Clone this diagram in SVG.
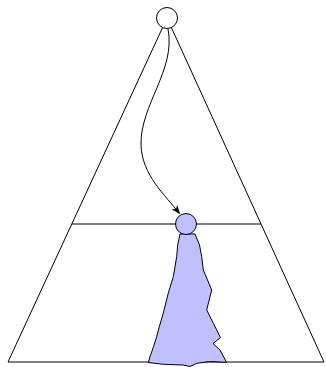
<svg xmlns="http://www.w3.org/2000/svg" width="326" height="367" viewBox="0 0 326 367">
<style>
.ln{fill:none;stroke:#000;stroke-width:1}
.blue{fill:#c0c0ff;stroke:#000;stroke-width:1;stroke-linejoin:round}
.wc{fill:#fff;stroke:#000;stroke-width:1}
</style>
<defs>
<marker id="arr" viewBox="0 0 10 10" refX="9" refY="5" markerWidth="9" markerHeight="9" markerUnits="userSpaceOnUse" orient="auto">
<path d="M0,1 L10,5 L0,9 L2.5,5 Z" fill="#000"/>
</marker>
</defs>
<g id="triangle">
<path class="ln" d="M8,362 L167,18 L324,362 Z"/>
<line class="ln" x1="71.8" y1="224" x2="261" y2="224"/>
</g>
<g id="plume">
<path class="blue" d="M180,234 L177.7,245 L176.7,256.7 L173.3,276.7 L168.3,293 L163.3,313 L159.3,326.7 L156.7,336.7 L153.5,346.7 L150,356.7 L148.3,362.5 L163.3,364.3 L183.3,365 L190,366.5 L196.7,363.3 L208.3,361.7 L215,361.7 L226.5,362.3 L220,350 L213,343.5 L220.5,337.5 L213.3,323.3 L206.7,310 L211.7,290 L203.3,270 L201.7,256.7 L199.5,245 L195,234 Z"/>
</g>
<g id="connectors">
<path class="ln" d="M168,29 C176,70 140,105 141,145 C142,175 165,195 179.5,213.5" marker-end="url(#arr)"/>
</g>
<g id="top-node">
<circle class="wc" cx="167" cy="18" r="10.5"/>
</g>
<g id="bottom-node">
<circle class="blue" cx="186" cy="224" r="10.5"/>
</g>
</svg>
